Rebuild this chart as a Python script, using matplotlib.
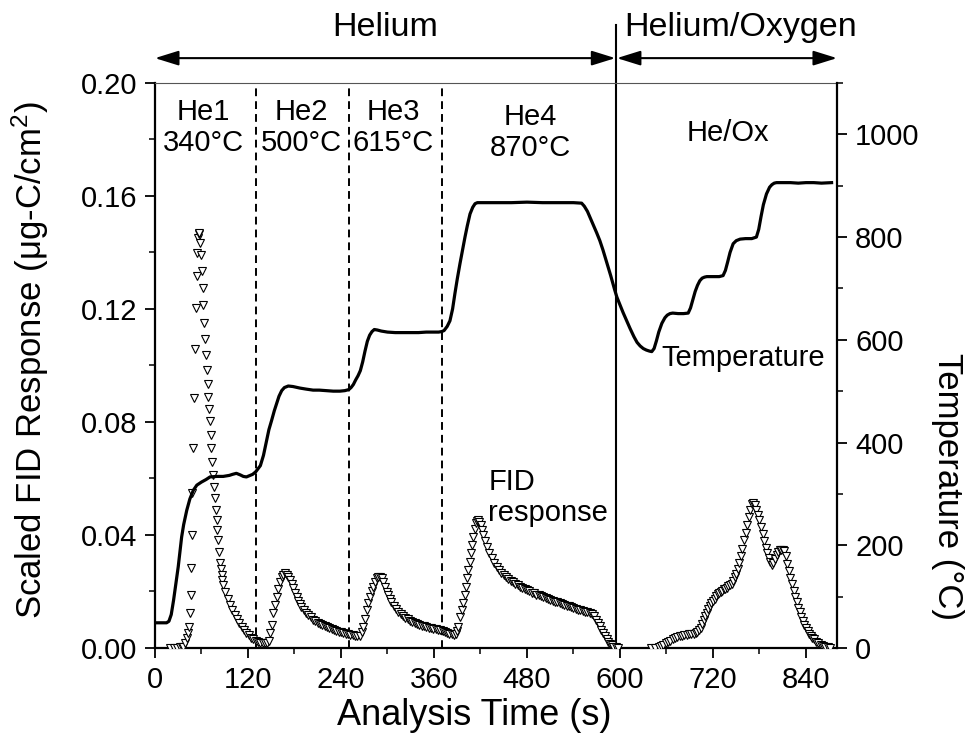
import matplotlib
matplotlib.use("Agg")
import matplotlib.pyplot as plt
from matplotlib.ticker import MultipleLocator

plt.rcParams["font.family"] = ["Liberation Sans", "DejaVu Sans"]
plt.rcParams["mathtext.fontset"] = "custom"
plt.rcParams["mathtext.rm"] = "Liberation Sans"
plt.rcParams["mathtext.default"] = "regular"

# ---- FID response (scaled, ug-C/cm2) by analysis stage ----
he1_t = [20, 24, 28, 32, 35, 36.6, 38.7, 40.9, 43, 44.3, 45.2, 46, 46.5, 47.3, 48.2,
         49.5, 50.8, 51.6, 52.9, 53.8, 54.6, 55.9, 56.8, 57.2, 58, 59.4, 61, 61.5,
         62.4, 63.7, 65, 65.8, 66.7, 68, 68.8, 70, 71, 72.3, 72.7, 74, 75.3, 76.1,
         77.4, 78.3, 79.6, 80.4, 81.7, 82.6, 83.9, 85, 86, 87, 88, 91, 94, 97, 100,
         103, 106, 109, 112, 115, 118, 121, 124, 127, 130, 133, 136, 139, 142]
he1_v = [0, 0, 0, 0.0002, 0.0004, 0.0005, 0.0017, 0.0034, 0.0052, 0.0075, 0.0123,
         0.0188, 0.0282, 0.040, 0.0547, 0.0707, 0.0884, 0.1057, 0.1202, 0.1316,
         0.1397, 0.145, 0.1467, 0.1468, 0.1434, 0.139, 0.1334, 0.1276, 0.1214, 0.115,
         0.1095, 0.1036, 0.0983, 0.0933, 0.089, 0.0847, 0.0802, 0.0755, 0.0707,
         0.0659, 0.0612, 0.0571, 0.053, 0.0488, 0.0453, 0.0418, 0.0382, 0.0341, 0.030,
         0.028, 0.0258, 0.024, 0.0223, 0.0198, 0.0174, 0.0153, 0.0134, 0.0118, 0.0102,
         0.0088, 0.0075, 0.0062, 0.0053, 0.0045, 0.0037, 0.003, 0.0024, 0.002, 0.0018,
         0.0017, 0.0018]

he2_t = [145, 146.5, 148.4, 150.5, 152.7, 155, 157, 159, 161.3, 163.5, 165.6, 167.7,
         169.9, 172, 174.2, 176.4, 178.5, 180.6, 182.8, 185, 187, 189, 192, 195, 198,
         201, 204, 207, 210, 213, 216, 219, 222, 225, 228, 231, 234, 237, 240, 243,
         246, 249, 252, 255, 258, 261, 264]
he2_v = [0.0018, 0.0025, 0.0052, 0.008, 0.0123, 0.0152, 0.018, 0.021, 0.0235, 0.025,
         0.026, 0.0264, 0.026, 0.0252, 0.024, 0.0226, 0.0211, 0.0195, 0.018, 0.0168,
         0.0157, 0.0146, 0.0135, 0.0125, 0.0116, 0.0108, 0.010, 0.0094, 0.0088,
         0.0084, 0.008, 0.0076, 0.0073, 0.007, 0.0066, 0.0063, 0.006, 0.0058, 0.0055,
         0.0052, 0.005, 0.0048, 0.0047, 0.0045, 0.0044, 0.0043, 0.0042]

he3_t = [266.5, 268.8, 271, 273.1, 275.3, 277.4, 279.5, 281.7, 283.8, 286, 288.2,
         290.3, 292.5, 294.6, 296.8, 299, 301, 303.2, 305, 308, 311, 314, 317, 320,
         323, 326, 329, 332, 335, 338, 341, 344, 347, 350, 353, 356, 359, 362, 365,
         368, 371, 374, 377, 380, 383, 386]
he3_v = [0.0055, 0.0075, 0.0103, 0.0134, 0.0158, 0.0181, 0.020, 0.0217, 0.0233,
         0.0246, 0.0251, 0.0252, 0.0246, 0.0235, 0.0217, 0.0199, 0.0186, 0.0175,
         0.0164, 0.015, 0.0137, 0.0127, 0.0119, 0.0112, 0.0106, 0.0101, 0.0096,
         0.0092, 0.0088, 0.0085, 0.0082, 0.0079, 0.0076, 0.0074, 0.0072, 0.007,
         0.0068, 0.0066, 0.0064, 0.0062, 0.006, 0.0057, 0.0054, 0.0051, 0.0049, 0.0047]

he4_t = [388, 389.5, 391.4, 393.5, 395.7, 397.8, 399.5, 401.3, 402.8, 404.3, 406,
         407.7, 409.3, 410.8, 412.5, 414.2, 415.7, 417.2, 418.7, 420.2, 422, 423.6,
         425.8, 428, 431.2, 434.4, 437.6, 441, 444, 447, 450, 453, 456, 459, 462, 465,
         468, 471, 474, 477, 480, 483, 486, 489, 492, 495, 498, 501, 504, 507, 510,
         513, 516, 519, 522, 525, 528, 531, 534, 537, 540, 543, 546, 549, 552, 555,
         558, 561, 564, 567, 569.5, 572, 574, 576, 578.5, 580.5, 582.7, 584.9, 587,
         589.2, 591.4, 594.5, 597.8]
he4_v = [0.005, 0.006, 0.0075, 0.011, 0.0135, 0.0158, 0.0188, 0.0217, 0.0246,
         0.0276, 0.0305, 0.0335, 0.0365, 0.0394, 0.042, 0.0441, 0.045, 0.0453,
         0.0447, 0.0435, 0.0418, 0.040, 0.0378, 0.0358, 0.0337, 0.0317, 0.0302,
         0.0288, 0.0276, 0.0265, 0.0257, 0.025, 0.0244, 0.0237, 0.0232, 0.0227,
         0.0222, 0.0217, 0.0213, 0.0208, 0.0204, 0.020, 0.0196, 0.0193, 0.0189,
         0.0186, 0.0183, 0.0179, 0.0176, 0.0173, 0.017, 0.0167, 0.0164, 0.0161,
         0.0158, 0.0156, 0.0153, 0.015, 0.0147, 0.0144, 0.0142, 0.0139, 0.0136,
         0.0133, 0.0131, 0.0129, 0.0127, 0.0125, 0.012, 0.0112, 0.0099, 0.0087,
         0.0076, 0.0064, 0.0052, 0.0042, 0.0032, 0.0022, 0.0015, 0.0009, 0.0005,
         0.0002, 0.0]

heox_t = [640, 645, 650, 653, 656, 659, 662, 665, 668, 671, 674, 677, 680, 683, 686,
          689, 692, 695, 698, 700, 702, 704, 706, 708, 710, 712, 714, 716, 718, 720,
          722, 724, 726, 728, 730, 732, 734, 736, 738, 740, 742, 744, 746, 748, 750,
          752, 754, 756, 758, 760, 762, 764, 766, 768, 770, 772, 774, 776, 778, 780,
          782, 784, 786, 788, 790, 792, 794, 796, 798, 800, 802, 804, 806, 808, 810,
          812, 814, 816, 818, 820, 822, 824, 826, 828, 830, 832, 834, 836, 838, 840,
          842, 844, 846, 848, 850, 853, 856, 859, 862, 865, 868, 871]
heox_v = [0, 0, 0.0003, 0.0008, 0.0012, 0.0016, 0.0021, 0.0026, 0.0031, 0.0035,
          0.0039, 0.0042, 0.0044, 0.0045, 0.0046, 0.0048, 0.005, 0.0051, 0.0053,
          0.0057, 0.0062, 0.0072, 0.0085, 0.0098, 0.0112, 0.0125, 0.0137, 0.0148,
          0.0158, 0.0167, 0.0175, 0.0183, 0.019, 0.0195, 0.0199, 0.0203, 0.0207,
          0.021, 0.0214, 0.0218, 0.0222, 0.0228, 0.0238, 0.025, 0.0262, 0.0279,
          0.030, 0.0325, 0.0352, 0.0381, 0.0408, 0.0435, 0.0462, 0.0488, 0.0508,
          0.0512, 0.0506, 0.049, 0.0472, 0.0452, 0.0428, 0.0403, 0.0378, 0.0355,
          0.0335, 0.0318, 0.0303, 0.0295, 0.0302, 0.0315, 0.0328, 0.0339, 0.0346,
          0.0348, 0.0347, 0.0342, 0.0325, 0.0298, 0.0272, 0.0248, 0.0225, 0.0203,
          0.0182, 0.0162, 0.0143, 0.0126, 0.011, 0.0095, 0.0082, 0.007, 0.006,
          0.0051, 0.0043, 0.0036, 0.003, 0.0022, 0.0016, 0.0011, 0.0007, 0.0004,
          0.0002, 0.0]

# ---- Oven temperature (deg C) ----
temp_t = [0, 10, 15, 18, 21, 24, 27, 30, 32, 34.4, 37, 41, 45, 49.5, 54, 60, 66, 71,
          80, 88, 96, 100, 105, 110, 114, 118, 122.6, 126, 130, 133, 136, 140, 144,
          147, 150.5, 154, 157, 160, 163.5, 167, 172, 178, 187, 195, 204, 212, 221.5,
          230, 238.7, 245, 250, 253, 256, 259, 262, 265, 268, 271, 274, 277, 280, 283,
          287, 292, 300, 310, 320, 330, 340, 350, 360, 366, 370, 373, 377, 380.6, 384,
          387, 390, 393.5, 397, 400, 403, 406.5, 410, 413, 416, 419, 425, 440, 460,
          480, 500, 520, 540, 550.5, 554, 558, 562, 565, 570, 574, 578, 583, 588, 593,
          596, 600, 604, 608.6, 613, 618, 622, 626, 630, 634, 638, 641, 644, 647, 650,
          654, 658, 661, 664.5, 668, 675, 682, 688, 691, 694, 697, 700, 703, 706, 709,
          712, 716, 722, 728, 733, 736, 739, 742, 746, 750, 755, 762, 770, 776, 779,
          782, 785, 789, 793, 796, 799, 802, 810, 820, 830, 840, 850, 860, 873]
temp_c = [49, 49, 49, 52, 65, 93, 125, 158, 185, 216, 240, 268, 290, 307, 317, 323,
          328, 333, 334, 334, 336, 338, 340, 337, 334, 333, 336, 338, 343, 349, 355,
          375, 404, 425, 443, 462, 476, 490, 501, 507, 510, 509, 506, 504, 502, 502,
          501, 500, 500, 501, 503, 507, 513, 522, 530, 540, 557, 578, 597, 609, 616,
          620, 619, 617, 615, 614, 614, 614, 614, 615, 615, 615, 616, 618, 626, 637,
          660, 690, 718, 748, 776, 800, 822, 845, 858, 865, 867, 867, 867, 867, 867,
          868, 867, 867, 867, 866, 860, 850, 836, 826, 808, 793, 775, 750, 725, 698,
          683, 668, 653, 637, 622, 606, 595, 588, 583, 580, 578, 577, 583, 598, 615,
          632, 643, 648, 651, 652, 651, 651, 652, 662, 678, 694, 706, 715, 720, 722,
          723, 723, 723, 723, 725, 735, 752, 770, 787, 793, 796, 797, 797, 800, 815,
          840, 863, 884, 897, 902, 905, 906, 906, 906, 905, 906, 906, 905, 906]

# ---- stage boundaries (s) and labels ----
dashed_bounds = [130, 250, 370]
oxygen_start = 595
stage_labels = ["He1\n340°C", "He2\n500°C", "He3\n615°C", "He4\n870°C", "He/Ox"]

fig = plt.figure(figsize=(9.71, 7.51), dpi=100)
ax = fig.add_axes([0.1596, 0.1372, 0.7024, 0.7523])
ax2 = ax.twinx()

fs_tick = 21
fs_note = 21
fs_label = 25

for seg_t, seg_v in [(he1_t, he1_v), (he2_t, he2_v), (he3_t, he3_v),
                     (he4_t, he4_v), (heox_t, heox_v)]:
    ax.plot(seg_t, seg_v, linestyle="none", marker="v", markersize=6,
            markerfacecolor="white", markeredgecolor="black", markeredgewidth=0.8,
            zorder=3)

ax2.plot(temp_t, temp_c, color="black", linewidth=2.3, solid_joinstyle="round",
         zorder=4)

for xb in dashed_bounds:
    ax.axvline(xb, color="black", linewidth=1.4, linestyle=(0, (4, 2.6)), zorder=2)

# Helium / Helium-Oxygen divider runs up above the frame
ax.plot([oxygen_start, oxygen_start], [0, 0.2205], color="black", linewidth=1.5,
        clip_on=False, zorder=2)

arrow_y = 0.2088
arrow_kw = dict(arrowstyle="<|-|>,head_length=0.9,head_width=0.28",
                color="black", linewidth=1.5, shrinkA=0, shrinkB=0,
                mutation_scale=16)
ax.annotate("", xy=(0, arrow_y), xytext=(oxygen_start - 1, arrow_y),
            arrowprops=arrow_kw, annotation_clip=False)
ax.annotate("", xy=(oxygen_start + 1, arrow_y), xytext=(880, arrow_y),
            arrowprops=arrow_kw, annotation_clip=False)
ax.text(297, 0.2198, "Helium", ha="center", va="center", fontsize=24.5,
        clip_on=False)
ax.text(605, 0.2198, "Helium/Oxygen", ha="left", va="center", fontsize=24.5,
        clip_on=False)

label_pos = [(62, 0.1842), (189, 0.1842), (307, 0.1842), (484, 0.1825), (739, 0.1823)]
for (lx, ly), lab in zip(label_pos, stage_labels):
    ax.text(lx, ly, lab, ha="center", va="center", fontsize=fs_note,
            linespacing=1.15)

ax.text(430, 0.0533, "FID\nresponse", ha="left", va="center", fontsize=fs_note,
        linespacing=1.15)
ax.text(654, 0.1027, "Temperature", ha="left", va="center", fontsize=fs_note)

# ---- axes ----
ax.set_xlim(0, 880)
ax.set_ylim(0, 0.20)
ax2.set_ylim(0, 1100)

ax.set_xticks([0, 120, 240, 360, 480, 600, 720, 840])
ax.xaxis.set_minor_locator(MultipleLocator(60))
ax.set_yticks([0.0, 0.04, 0.08, 0.12, 0.16, 0.20])
ax.set_yticklabels(["0.00", "0.04", "0.08", "0.12", "0.16", "0.20"])
ax.yaxis.set_minor_locator(MultipleLocator(0.02))
ax2.set_yticks([0, 200, 400, 600, 800, 1000])
ax2.yaxis.set_minor_locator(MultipleLocator(100))

for a in (ax, ax2):
    a.tick_params(which="major", direction="out", length=7, width=1.3,
                  labelsize=fs_tick, pad=6)
    a.tick_params(which="minor", direction="out", length=4, width=1.1)

ax.tick_params(axis="x", which="both", top=False)
ax.tick_params(axis="y", which="both", right=False)

ax.spines["right"].set_visible(False)
ax.spines["top"].set_linewidth(0.8)
ax.spines["top"].set_color("#555555")
ax.spines["left"].set_linewidth(1.6)
ax.spines["bottom"].set_linewidth(1.6)
for s in ("left", "top", "bottom"):
    ax2.spines[s].set_visible(False)
ax2.spines["right"].set_linewidth(1.6)

ax.set_xlabel("Analysis Time (s)", fontsize=26, va="center")
ax.xaxis.set_label_coords(0.468, -0.119)
ax.set_ylabel("Scaled FID Response (μg-C/cm$^{2}$)", fontsize=fs_label,
              va="center")
ax.yaxis.set_label_coords(-0.183, 0.51)
ax2.set_ylabel("Temperature (°C)", fontsize=fs_label, rotation=270, va="center")
ax2.yaxis.set_label_coords(1.162, 0.285)

fig.savefig("out.png", dpi=100)
